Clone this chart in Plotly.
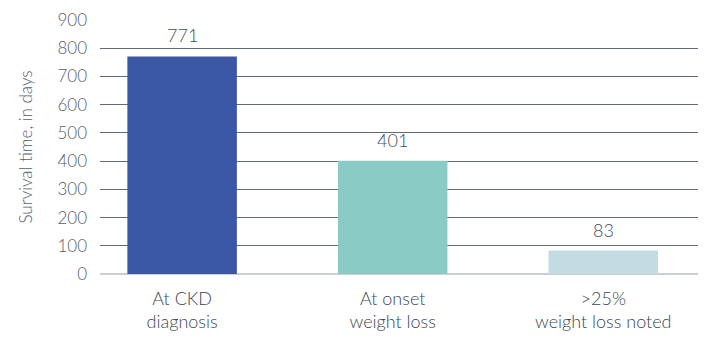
import plotly.graph_objects as go

categories = ["At CKD<br>diagnosis", "At onset<br>weight loss", ">25%<br>weight loss noted"]
values = [771, 401, 83]
bar_colors = ["#3d57a7", "#8bcbc6", "#c2dce2"]
y_ticks = [0, 100, 200, 300, 400, 500, 600, 700, 800, 900]

font_family = "Lato, 'Open Sans', sans-serif"
text_color = "#444f5c"

fig = go.Figure()
fig.add_trace(go.Bar(
    x=categories,
    y=values,
    marker=dict(color=bar_colors, line=dict(width=0)),
    width=0.52,
    cliponaxis=False,
))

for c, v in zip(categories, values):
    fig.add_annotation(
        x=c, y=v, text=str(v), showarrow=False,
        yanchor="bottom", yshift=8,
        font=dict(family=font_family, size=18, color=text_color, weight=300),
    )

fig.update_layout(
    width=707,
    height=341,
    margin=dict(l=100, r=9, t=17, b=67),
    paper_bgcolor="white",
    plot_bgcolor="white",
    showlegend=False,
    font=dict(family=font_family, color=text_color),
    xaxis=dict(
        range=[-0.39, 2.45],
        showgrid=False,
        showline=False,
        zeroline=False,
        ticks="",
        ticklabelstandoff=12,
        tickfont=dict(family=font_family, size=18, color="#3c4650", weight=300),
    ),
    yaxis=dict(
        range=[0, 900],
        tickvals=y_ticks,
        ticktext=[str(t) for t in y_ticks],
        showgrid=True,
        gridcolor="#5f6b78",
        gridwidth=1.4,
        zeroline=True,
        zerolinecolor="#c9ced3",
        zerolinewidth=1.5,
        showline=False,
        ticks="",
        ticklabelstandoff=12,
        tickfont=dict(family=font_family, size=17, color="#545e6a", weight=300),
        title=dict(text="Survival time, in days", font=dict(family=font_family, size=17, color="#545e6a", weight=300), standoff=20),
    ),
)

fig.write_html("out.html")
